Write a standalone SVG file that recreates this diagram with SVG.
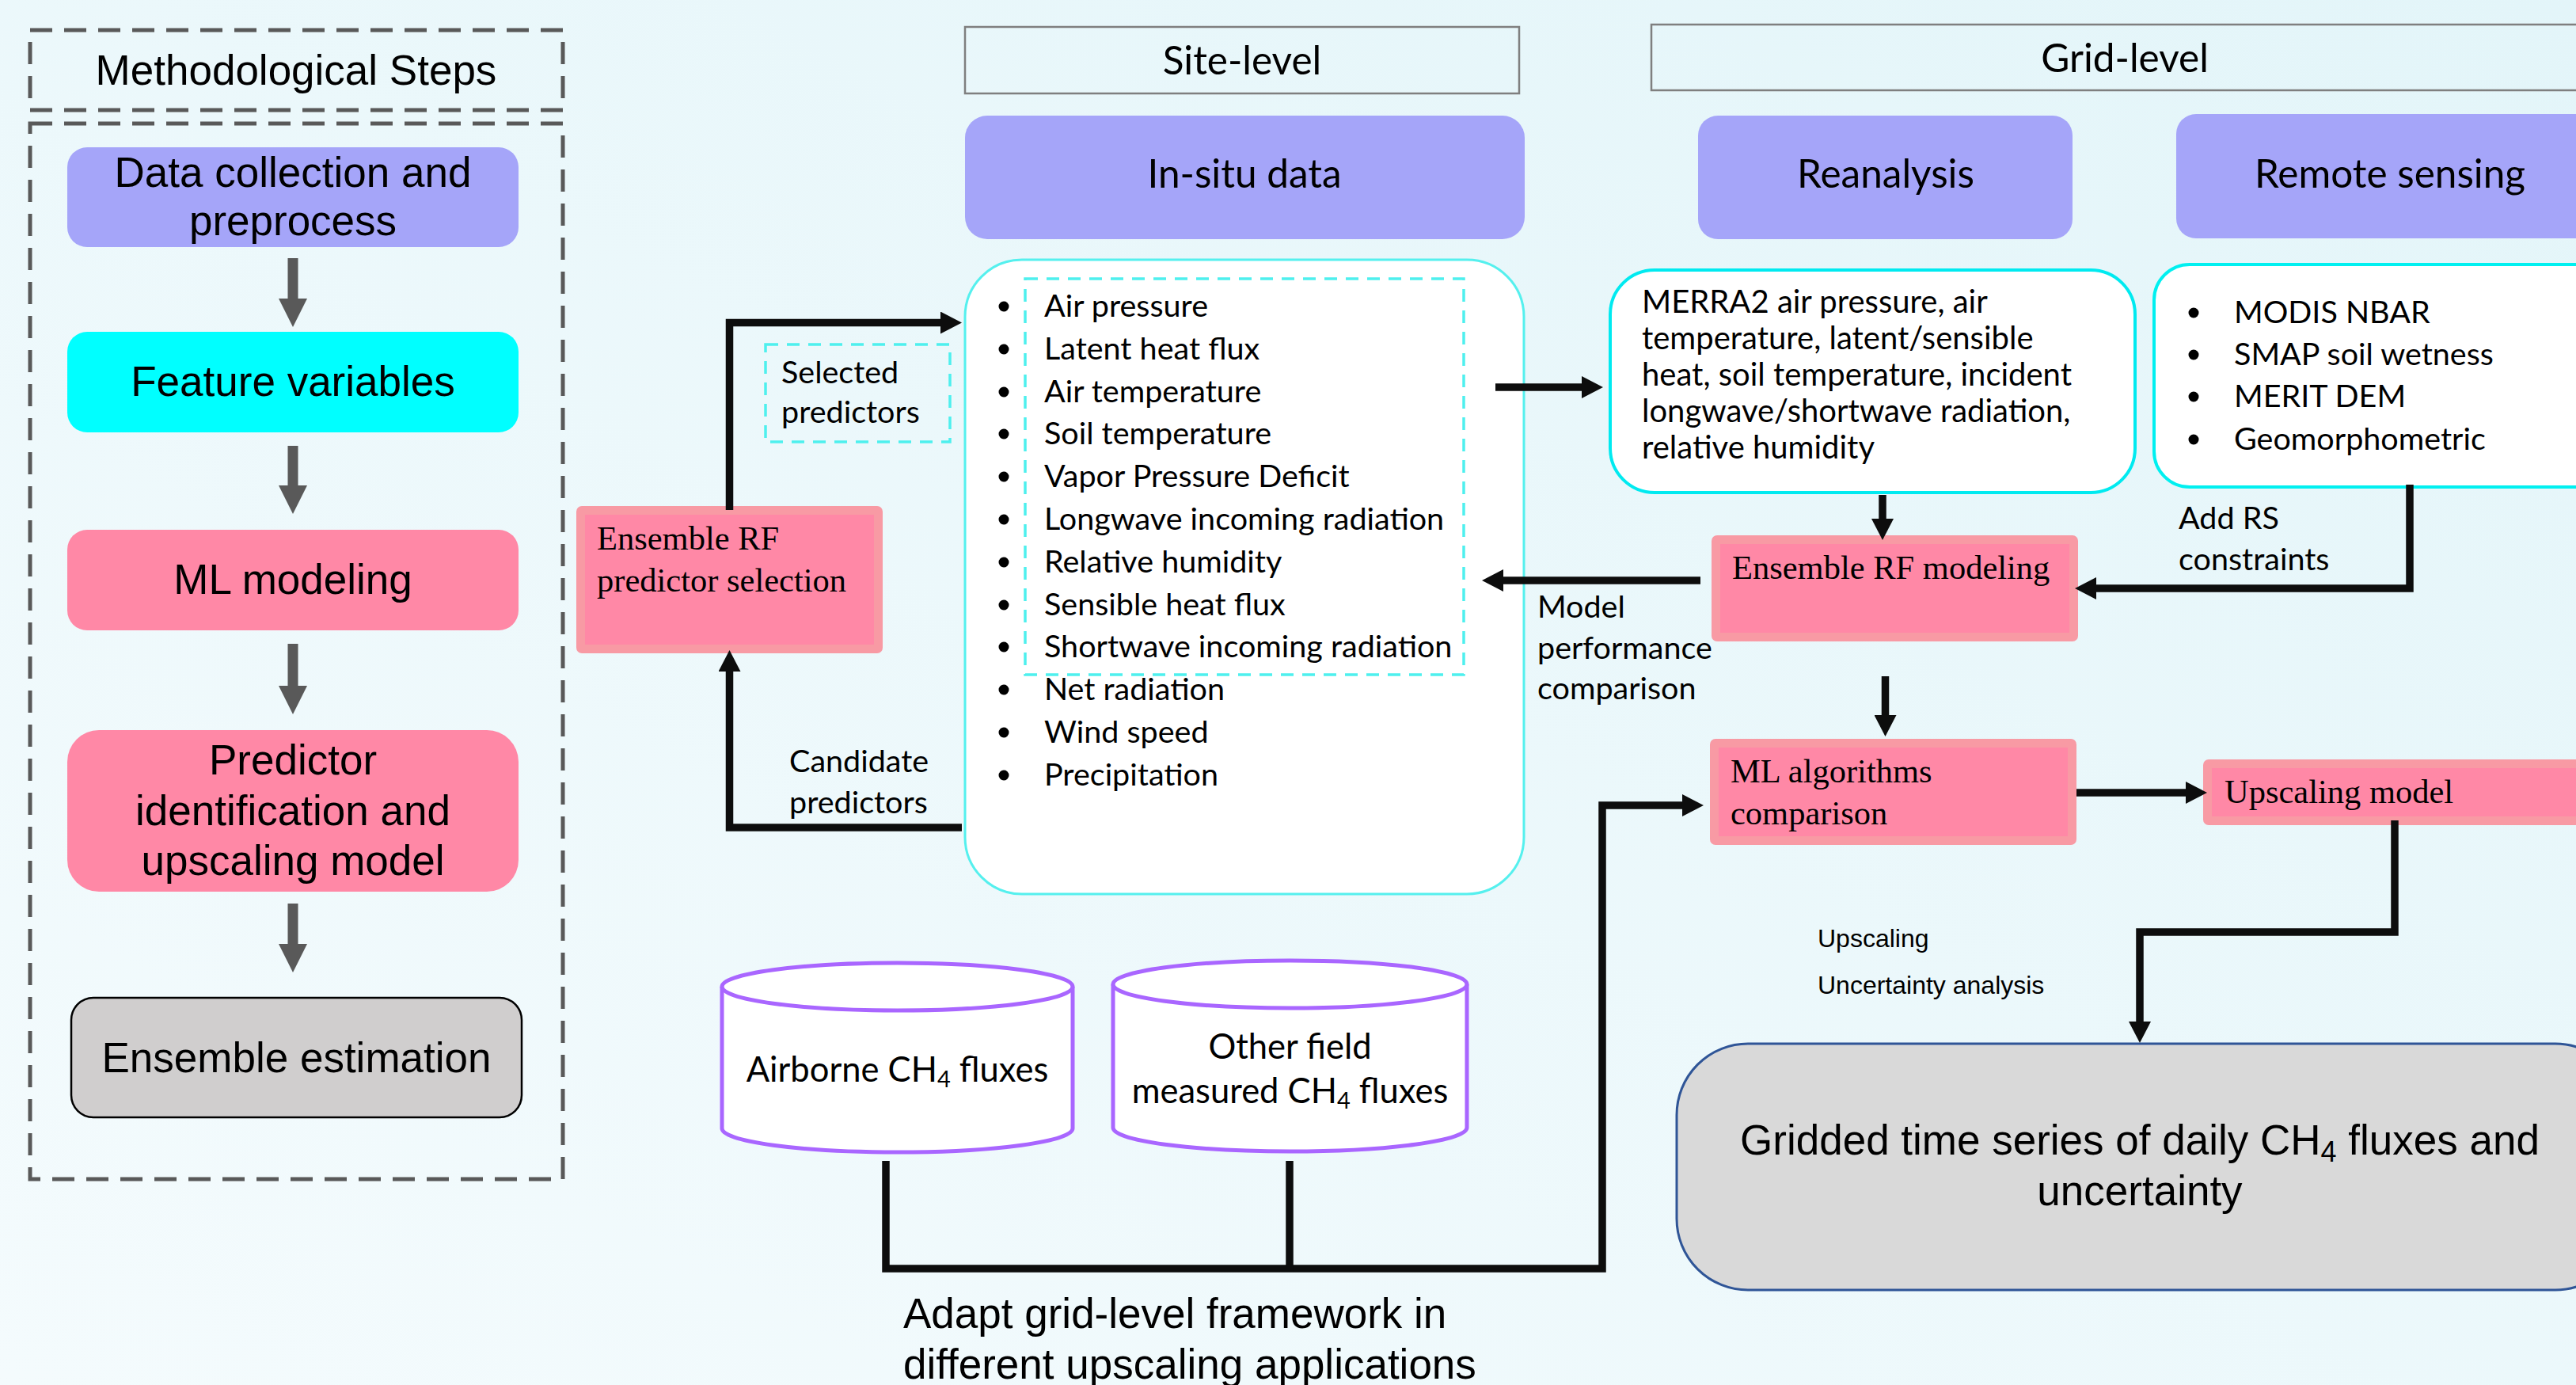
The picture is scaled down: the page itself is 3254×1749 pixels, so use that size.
<svg xmlns="http://www.w3.org/2000/svg" width="3254" height="1749" viewBox="0 0 3254 1749">
<defs>
<linearGradient id="bg" x1="1" y1="0" x2="0" y2="1">
<stop offset="0" stop-color="#e3f5f9"/><stop offset="1" stop-color="#f4fbfd"/>
</linearGradient>
<marker id="ah" viewBox="0 0 27 28" markerWidth="27" markerHeight="28" markerUnits="userSpaceOnUse" refX="7" refY="14" orient="auto"><path d="M0,0 L27,14 L0,28 Z" fill="#0d0d0d"/></marker>
<style>
.ar{font-family:"Liberation Sans",Arial,sans-serif;fill:#000;font-size:53px}
.lt{font-family:Lato,"Liberation Sans",sans-serif;fill:#000;font-size:39.5px}
.hd{font-size:49.5px}
.mr{font-size:40px}
.cy{font-size:43.5px}
.sm{font-size:32px}
.tm{font-family:"Liberation Serif","Times New Roman",serif;fill:#000;font-size:42.5px}
.mid{text-anchor:middle}
.lav{fill:#A5A5F9}
.pk{fill:#FF88A6}
.pkb{fill:#F89AA4}
.con{fill:none;stroke:#0d0d0d;stroke-width:9.5;marker-end:url(#ah)}
.line{fill:none;stroke:#0d0d0d;stroke-width:9.5}
.gd{fill:none;stroke:#595959;stroke-width:5;stroke-dasharray:28 15}
.ga{fill:#595959}
.cyl{fill:#fff;stroke:#A966FF;stroke-width:5}
.cd{fill:none;stroke:#4EF0EE;stroke-width:3.5;stroke-dasharray:16 11}
.bul{fill:#000}
</style>
</defs>
<rect width="3254" height="1749" fill="url(#bg)"/>

<g id="method-steps">
<rect class="gd" x="38" y="38" width="673" height="101"/>
<text class="ar mid" x="374" y="107">Methodological Steps</text>
</g>
<g id="steps-frame"><rect class="gd" x="38" y="156" width="673" height="1333"/></g>
<g id="step-data">
<rect class="lav" x="85" y="186" width="570" height="126" rx="25"/>
<text class="ar mid" x="370" y="236">Data collection and</text>
<text class="ar mid" x="370" y="297">preprocess</text>
</g>
<g id="step-feature">
<rect x="85" y="419" width="570" height="127" rx="25" fill="#00FFFF"/>
<text class="ar mid" x="370" y="500">Feature variables</text>
</g>
<g id="step-ml">
<rect class="pk" x="85" y="669" width="570" height="127" rx="25"/>
<text class="ar mid" x="370" y="750">ML modeling</text>
</g>
<g id="step-predictor">
<rect class="pk" x="85" y="922" width="570" height="204" rx="40"/>
<text class="ar mid" x="370" y="978">Predictor</text>
<text class="ar mid" x="370" y="1042">identification and</text>
<text class="ar mid" x="370" y="1105">upscaling model</text>
</g>
<g id="step-ensemble">
<rect x="90" y="1260" width="569" height="151" rx="28" fill="#D0CECE" stroke="#000" stroke-width="2.5"/>
<text class="ar mid" x="374.5" y="1354">Ensemble estimation</text>
</g>
<g id="step-arrows">
<polygon class="ga" points="363.5,326 376.5,326 376.5,377 388,377 370,413 352,377 363.5,377"/>
<polygon class="ga" points="363.5,563 376.5,563 376.5,613 388,613 370,649 352,613 363.5,613"/>
<polygon class="ga" points="363.5,813 376.5,813 376.5,866 388,866 370,902 352,866 363.5,866"/>
<polygon class="ga" points="363.5,1141 376.5,1141 376.5,1192 388,1192 370,1228 352,1192 363.5,1192"/>
</g>

<g id="site-level">
<rect x="1219" y="34" width="700" height="84" fill="none" stroke="#7F7F7F" stroke-width="2.5"/>
<text class="lt hd mid" x="1569" y="94">Site-level</text>
</g>
<g id="grid-level">
<rect x="2086" y="31" width="1300" height="83" fill="none" stroke="#7F7F7F" stroke-width="2.5"/>
<text class="lt hd mid" x="2684" y="91">Grid-level</text>
</g>
<g id="insitu">
<rect class="lav" x="1219" y="146" width="707" height="156" rx="28"/>
<text class="lt hd mid" x="1572" y="237">In-situ data</text>
</g>
<g id="reanalysis">
<rect class="lav" x="2145" y="146" width="473" height="156" rx="25"/>
<text class="lt hd mid" x="2382" y="237">Reanalysis</text>
</g>
<g id="remote-sensing">
<rect class="lav" x="2749" y="144" width="560" height="157" rx="25"/>
<text class="lt hd mid" x="3019" y="237">Remote sensing</text>
</g>

<g id="insitu-list">
<rect x="1219" y="328" width="706" height="801" rx="72" fill="#fff" stroke="#55F0EE" stroke-width="3"/>
<rect class="cd" x="1295" y="352" width="554" height="500"/>
<g class="bul">
<circle cx="1268" cy="387" r="6.5"/><circle cx="1268" cy="441" r="6.5"/><circle cx="1268" cy="495" r="6.5"/>
<circle cx="1268" cy="548" r="6.5"/><circle cx="1268" cy="602" r="6.5"/><circle cx="1268" cy="656" r="6.5"/>
<circle cx="1268" cy="710" r="6.5"/><circle cx="1268" cy="764" r="6.5"/><circle cx="1268" cy="817" r="6.5"/>
<circle cx="1268" cy="871" r="6.5"/><circle cx="1268" cy="925" r="6.5"/><circle cx="1268" cy="979" r="6.5"/>
</g>
<text class="lt" x="1319" y="400">Air pressure</text>
<text class="lt" x="1319" y="454">Latent heat flux</text>
<text class="lt" x="1319" y="508">Air temperature</text>
<text class="lt" x="1319" y="561">Soil temperature</text>
<text class="lt" x="1319" y="615">Vapor Pressure Deficit</text>
<text class="lt" x="1319" y="669">Longwave incoming radiation</text>
<text class="lt" x="1319" y="723">Relative humidity</text>
<text class="lt" x="1319" y="777">Sensible heat flux</text>
<text class="lt" x="1319" y="830">Shortwave incoming radiation</text>
<text class="lt" x="1319" y="884">Net radiation</text>
<text class="lt" x="1319" y="938">Wind speed</text>
<text class="lt" x="1319" y="992">Precipitation</text>
</g>

<g id="merra">
<rect x="2034" y="341" width="663" height="281" rx="56" fill="#fff" stroke="#00EAF0" stroke-width="4"/>
<text class="lt mr" x="2074" y="395">MERRA2 air pressure, air</text>
<text class="lt mr" x="2074" y="441">temperature, latent/sensible</text>
<text class="lt mr" x="2074" y="487">heat, soil temperature, incident</text>
<text class="lt mr" x="2074" y="533">longwave/shortwave radiation,</text>
<text class="lt mr" x="2074" y="579">relative humidity</text>
</g>

<g id="rs-list">
<rect x="2721" y="334" width="620" height="281" rx="45" fill="#fff" stroke="#00F0F0" stroke-width="4"/>
<g class="bul">
<circle cx="2771" cy="395" r="6.5"/><circle cx="2771" cy="448" r="6.5"/><circle cx="2771" cy="501" r="6.5"/><circle cx="2771" cy="555" r="6.5"/>
</g>
<text class="lt" x="2822" y="408">MODIS NBAR</text>
<text class="lt" x="2822" y="461">SMAP soil wetness</text>
<text class="lt" x="2822" y="514">MERIT DEM</text>
<text class="lt" x="2822" y="568">Geomorphometric</text>
</g>

<g id="selected-predictors">
<rect class="cd" x="967" y="435" width="233" height="123"/>
<text class="lt" x="987" y="484">Selected</text>
<text class="lt" x="987" y="534">predictors</text>
</g>

<g id="rf-selection">
<rect class="pkb" x="728" y="639" width="387" height="186" rx="7"/>
<rect class="pk" x="739" y="650" width="365" height="164"/>
<text class="tm" x="754" y="694">Ensemble RF</text>
<text class="tm" x="754" y="747">predictor selection</text>
</g>

<g id="rf-modeling">
<rect class="pkb" x="2162" y="676" width="463" height="134" rx="7"/>
<rect class="pk" x="2173" y="687" width="441" height="112"/>
<text class="tm" x="2188" y="731">Ensemble RF modeling</text>
</g>

<g id="ml-comparison">
<rect class="pkb" x="2160" y="933" width="463" height="134" rx="7"/>
<rect class="pk" x="2171" y="944" width="441" height="112"/>
<text class="tm" x="2186" y="988">ML algorithms</text>
<text class="tm" x="2186" y="1041">comparison</text>
</g>

<g id="upscaling-model">
<rect class="pkb" x="2783" y="959" width="520" height="83" rx="7"/>
<rect class="pk" x="2794" y="970" width="500" height="61"/>
<text class="tm" x="2810" y="1014">Upscaling model</text>
</g>

<g id="gridded">
<rect x="2118" y="1318" width="1200" height="311" rx="90" fill="#D9D9D9" stroke="#2F5597" stroke-width="3"/>
<text class="ar mid" x="2703" y="1458">Gridded time series of daily CH<tspan font-size="36" dy="9">4</tspan><tspan dy="-9"> fluxes and</tspan></text>
<text class="ar mid" x="2703" y="1522">uncertainty</text>
</g>

<g id="airborne">
<path class="cyl" d="M912 1246 V1425 A221.5 30 0 0 0 1355 1425 V1246"/>
<ellipse class="cyl" cx="1133.5" cy="1246" rx="221.5" ry="30"/>
<text class="lt cy mid" x="1133.5" y="1366">Airborne CH<tspan font-size="29" dy="7">4</tspan><tspan dy="-7"> fluxes</tspan></text>
</g>

<g id="other-field">
<path class="cyl" d="M1406 1243 V1424 A223.5 30 0 0 0 1853 1424 V1243"/>
<ellipse class="cyl" cx="1629.5" cy="1243" rx="223.5" ry="30"/>
<text class="lt cy mid" x="1629.5" y="1337">Other field</text>
<text class="lt cy mid" x="1629.5" y="1393">measured CH<tspan font-size="29" dy="7">4</tspan><tspan dy="-7"> fluxes</tspan></text>
</g>

<g id="labels">
<text class="lt" x="997" y="975">Candidate</text>
<text class="lt" x="997" y="1027">predictors</text>
<text class="lt" x="1942" y="780">Model</text>
<text class="lt" x="1942" y="832">performance</text>
<text class="lt" x="1942" y="883">comparison</text>
<text class="lt" x="2752" y="668">Add RS</text>
<text class="lt" x="2752" y="720">constraints</text>
<text class="ar sm" x="2296" y="1196">Upscaling</text>
<text class="ar sm" x="2296" y="1255">Uncertainty analysis</text>
<text class="ar" x="1141" y="1677">Adapt grid-level framework in</text>
<text class="ar" x="1141" y="1741">different upscaling applications</text>
</g>

<g id="connectors">
<path class="con" d="M921.5 644 V407.5 H1195"/>
<path class="con" d="M1215 1045 H921.5 V841"/>
<path class="con" d="M1889 489 H2005"/>
<path class="con" d="M2148 733 H1892"/>
<path class="con" d="M2378 625 V662"/>
<path class="con" d="M3044 612 V743 H2641"/>
<path class="con" d="M2381.5 854 V910"/>
<path class="con" d="M2623 1001 H2768"/>
<path class="con" d="M3025 1036 V1177 H2703 V1297"/>
<path class="con" d="M1119 1466 V1602 H2024 V1017 H2132"/>
<path class="line" d="M1629 1466 V1606"/>
</g>
</svg>
